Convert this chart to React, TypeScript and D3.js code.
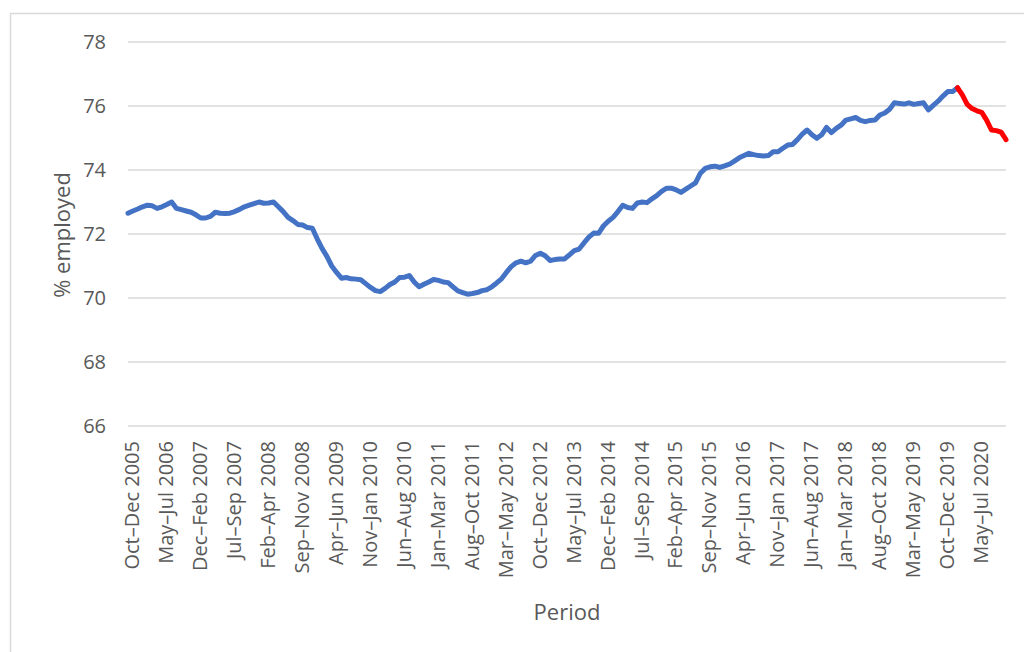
import React from "react";
import * as d3 from "d3";

// rolling three-month periods, first one is Oct–Dec 2005
const monthNames = ["Jan", "Feb", "Mar", "Apr", "May", "Jun", "Jul", "Aug", "Sep", "Oct", "Nov", "Dec"];
const firstStartMonth = 9; // Oct
const firstStartYear = 2005;
const periodCount = 182;

const yTicks = [66, 68, 70, 72, 74, 76, 78];

// % employed, Oct–Dec 2005 up to Jan–Mar 2020
const employedBefore = [
  72.65, 72.72, 72.78, 72.85, 72.9, 72.88, 72.8, 72.85, 72.92, 73.0,
  72.8, 72.76, 72.72, 72.68, 72.6, 72.5, 72.5, 72.55, 72.68, 72.65,
  72.64, 72.65, 72.7, 72.77, 72.85, 72.9, 72.95, 73.0, 72.96, 72.97,
  73.0, 72.85, 72.7, 72.52, 72.42, 72.3, 72.28, 72.2, 72.18, 71.85,
  71.55, 71.3, 71.0, 70.8, 70.62, 70.64, 70.6, 70.59, 70.57, 70.45,
  70.33, 70.23, 70.2, 70.3, 70.42, 70.5, 70.64, 70.65, 70.7, 70.5,
  70.35, 70.43, 70.5, 70.58, 70.55, 70.5, 70.48, 70.35, 70.22, 70.17,
  70.12, 70.14, 70.17, 70.23, 70.26, 70.35, 70.47, 70.6, 70.8, 70.98,
  71.1, 71.15, 71.1, 71.15, 71.33, 71.4, 71.32, 71.17, 71.2, 71.22,
  71.22, 71.35, 71.48, 71.53, 71.72, 71.9, 72.03, 72.02, 72.25, 72.4,
  72.52, 72.7, 72.9, 72.83, 72.8, 72.97, 73.0, 72.98, 73.1, 73.2,
  73.33, 73.43, 73.43, 73.38, 73.3, 73.4, 73.5, 73.6, 73.9, 74.05,
  74.1, 74.12, 74.08, 74.13, 74.18, 74.28, 74.38, 74.45, 74.52, 74.48,
  74.45, 74.44, 74.45, 74.57, 74.57, 74.68, 74.78, 74.8, 74.95, 75.12,
  75.25, 75.1, 74.99, 75.1, 75.33, 75.17, 75.3, 75.4, 75.56, 75.6,
  75.64, 75.55, 75.51, 75.55, 75.56, 75.72, 75.78, 75.9, 76.1, 76.08,
  76.06, 76.1, 76.05, 76.08, 76.1, 75.88, 76.02, 76.15, 76.31, 76.45,
  76.45, 76.57,
];

// % employed from Jan–Mar 2020 on (drawn in red)
const employedAfter = [76.57, 76.35, 76.05, 75.92, 75.85, 75.8, 75.56, 75.25, 75.23, 75.18, 74.95];

const periods: string[] = [];
for (let i = 0; i < periodCount; i++) {
  const s = firstStartMonth + i;
  const e = s + 2;
  const endYear = firstStartYear + Math.floor(e / 12);
  periods.push(`${monthNames[s % 12]}–${monthNames[e % 12]} ${endYear}`);
}

const font = "'Open Sans', sans-serif";
const textColor = "#595959";

export default function App() {
  const width = 1024;
  const height = 652;
  const plot = { left: 128, right: 1006, top: 42, bottom: 426 };

  const x = d3.scalePoint<string>().domain(periods).range([plot.left, plot.right]);
  const y = d3.scaleLinear().domain([66, 78]).range([plot.bottom, plot.top]);

  const beforeData = employedBefore.map((v, i) => ({ p: periods[i], v }));
  const offset = employedBefore.length - 1;
  const afterData = employedAfter.map((v, i) => ({ p: periods[offset + i], v }));

  const line = d3
    .line<{ p: string; v: number }>()
    .x((d) => x(d.p) as number)
    .y((d) => y(d.v));

  return (
    <svg
      width={width}
      height={height}
      style={{ position: "absolute", left: 0, top: 0, background: "#fff" }}
      fontFamily={font}
    >
      <rect x={10.5} y={13.5} width={1030} height={660} fill="none" stroke="#d9d9d9" strokeWidth={1.5} />

      {yTicks.map((t) => (
        <g key={t}>
          <line x1={plot.left} x2={plot.right} y1={y(t)} y2={y(t)} stroke="#d9d9d9" strokeWidth={1.5} />
          <text x={106} y={y(t)} dy="0.36em" textAnchor="end" fontSize={20} fill={textColor}>
            {t}
          </text>
        </g>
      ))}

      {periods.map((p, i) =>
        i % 7 === 0 ? (
          <text
            key={p}
            transform={`translate(${(x(p) as number) + 4},441) rotate(-90)`}
            dy="0.36em"
            textAnchor="end"
            fontSize={20}
            fill={textColor}
          >
            {p}
          </text>
        ) : null
      )}

      <path d={line(beforeData) || ""} fill="none" stroke="#4472C4" strokeWidth={5} strokeLinejoin="round" strokeLinecap="round" />
      <path d={line(afterData) || ""} fill="none" stroke="#FF0000" strokeWidth={5} strokeLinejoin="round" strokeLinecap="round" />

      <text
        transform={`translate(62,${(plot.top + plot.bottom) / 2 + 1}) rotate(-90)`}
        dy="0.36em"
        textAnchor="middle"
        fontSize={22}
        fill={textColor}
      >
        % employed
      </text>
      <text x={(plot.left + plot.right) / 2} y={620} textAnchor="middle" fontSize={22} fill={textColor}>
        Period
      </text>
    </svg>
  );
}
